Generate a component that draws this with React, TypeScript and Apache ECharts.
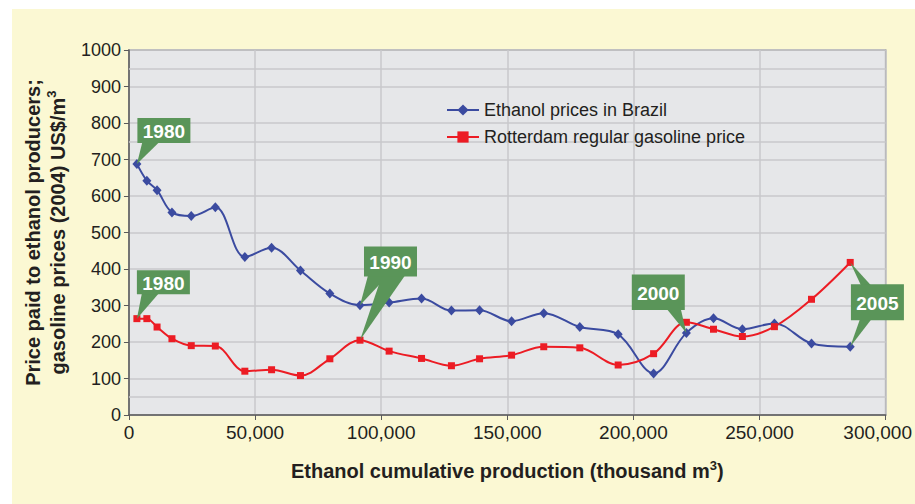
import React, { useEffect, useRef } from "react";
import * as echarts from "echarts";

// Cumulative ethanol production (thousand m3), one point per year 1980..2005
const xProduction = [
  3150, 7100, 11150, 17050, 24700, 34250, 45950, 56550, 68000, 79650, 91600, 103150, 116000,
  127850, 139000, 151700, 164450, 178750, 193950, 208000, 221000, 231750, 243200, 255900,
  270600, 285950,
];
const ethanolBrazil = [
  688, 642, 616, 555, 545, 569, 433, 458, 396, 333, 301, 308, 319, 286, 287, 257, 279, 241, 221,
  114, 225, 265, 235, 251, 196, 187,
];
const rotterdamGasoline = [
  264, 264, 241, 209, 190, 189, 120, 124, 108, 154, 205, 175, 155, 135, 154, 164, 187, 184, 137,
  168, 254, 235, 215, 242, 317, 418,
];
const seriesNames = ["Ethanol prices in Brazil", "Rotterdam regular gasoline price"];
const xTitle = "Ethanol cumulative production (thousand m{sup|3})";
const yTitle = "Price paid to ethanol producers;\ngasoline prices (2004) US$/m{sup|3}";
const extraGridValues = [950, 750, 50];

// callouts: label, anchor [series, index], box offset/size, pointers
const callouts = [
  { label: "1980", anchor: [0, 0], box: [0.5, -46, 53, 25], pointers: [{ edge: "bottom", base: [5, 22], tip: [0, 0] }] },
  { label: "1980", anchor: [1, 0], box: [0, -48.4, 53, 24], pointers: [{ edge: "bottom", base: [5, 22], tip: [1, 0] }] },
  {
    label: "1990", anchor: [0, 10], box: [4, -58.6, 53, 30],
    pointers: [
      { edge: "bottom", base: [4, 24], tip: [0, 10] },
      { edge: "bottom", base: [18, 41], tip: [1, 10] },
    ],
  },
  {
    label: "2000", anchor: [0, 20], box: [-54.6, -58.5, 53, 35.5],
    pointers: [{ edge: "bottom", base: [35, 49], tip: [0, 20] }],
  },
  {
    label: "2005", anchor: [1, 25], box: [0.7, 21.7, 53, 36],
    pointers: [
      { edge: "top", base: [10, 20], tip: [1, 25] },
      { edge: "bottom", base: [9, 20.5], tip: [0, 25] },
    ],
  },
];

const FONT = "'Liberation Sans', Arial, Helvetica, sans-serif";
const TXT = "#231F20";
const GRIDC = "#C8C9CB";
const GREEN = "#5A9559";

export default function App() {
  const ref = useRef<HTMLDivElement>(null);
  useEffect(() => {
    const chart = echarts.init(ref.current!, null, { renderer: "svg" });
    const ethData = xProduction.map((x, i) => [x, ethanolBrazil[i]]);
    const gasData = xProduction.map((x, i) => [x, rotterdamGasoline[i]]);
    const allData = [ethData, gasData];
    const supStyle = { fontSize: 13, fontWeight: "bold", color: TXT, verticalAlign: "top", lineHeight: 14, fontFamily: FONT };

    chart.setOption({
      animation: false,
      backgroundColor: "#FBF8D3",
      textStyle: { fontFamily: FONT },
      grid: {
        left: 114, right: 27, top: 41, bottom: 89, show: true,
        backgroundColor: "#E6E7E9", borderColor: "#8F8F8F", borderWidth: 1.5,
      },
      legend: {
        orient: "vertical", left: 429, top: 87, itemWidth: 32, itemHeight: 14, itemGap: 9,
        textStyle: { fontSize: 18, color: TXT, lineHeight: 18, fontFamily: FONT },
        data: seriesNames,
      },
      xAxis: {
        type: "value", min: 0, max: 300000, interval: 50000,
        axisLine: { show: true, onZero: false, lineStyle: { color: "#5A5A5A", width: 1.5 } },
        axisTick: { show: true, length: 5, lineStyle: { color: "#5A5A5A" } },
        axisLabel: {
          fontSize: 19, color: TXT, margin: 8, fontFamily: FONT,
          formatter: (v: number) => {
            const s = v.toLocaleString("en-US");
            return v === 300000 ? "{last|" + s + "}" : s;
          },
          rich: { last: { fontSize: 19, color: TXT, fontFamily: FONT, padding: [0, 16, 0, 0] } },
        },
        splitLine: { show: true, lineStyle: { color: GRIDC, width: 1.5 } },
        name: xTitle, nameLocation: "middle", nameGap: 44,
        nameTextStyle: { fontSize: 20, fontWeight: "bold", color: TXT, lineHeight: 24, fontFamily: FONT, rich: { sup: supStyle } },
      },
      yAxis: {
        type: "value", min: 0, max: 1000, interval: 100,
        axisLine: { show: true, lineStyle: { color: "#5A5A5A", width: 1.5 } },
        axisTick: { show: true, length: 5, lineStyle: { color: "#5A5A5A" } },
        axisLabel: { fontSize: 18, color: TXT, margin: 8, fontFamily: FONT, formatter: (v: number) => String(v) },
        splitLine: { show: true, lineStyle: { color: GRIDC, width: 1.5 } },
        name: yTitle, nameLocation: "middle", nameGap: 44, nameRotate: 90,
        nameTextStyle: { fontSize: 20, fontWeight: "bold", color: TXT, lineHeight: 25, fontFamily: FONT, rich: { sup: supStyle } },
      },
      series: [
        {
          name: seriesNames[0], type: "line", data: ethData, smooth: 0.35,
          symbol: "diamond", symbolSize: [9, 10],
          itemStyle: { color: "#3B4BA0" }, lineStyle: { width: 2, color: "#3B4BA0" },
          markLine: {
            silent: true, symbol: "none", label: { show: false },
            lineStyle: { color: GRIDC, width: 1.5, type: "solid" },
            data: extraGridValues.map((v) => ({ yAxis: v })),
            z: 1,
          },
        },
        {
          name: seriesNames[1], type: "line", data: gasData, smooth: 0.35,
          symbol: "rect", symbolSize: 7,
          itemStyle: { color: "#EC1C24" }, lineStyle: { width: 2, color: "#EC1C24" },
        },
      ],
    });

    const px = (s: number, i: number) => chart.convertToPixel({ gridIndex: 0 }, allData[s][i]) as number[];
    const elements: any[] = [];
    callouts.forEach((c) => {
      const a = px(c.anchor[0], c.anchor[1]);
      const bx = a[0] + c.box[0];
      const by = a[1] + c.box[1];
      const bw = c.box[2];
      const bh = c.box[3];
      c.pointers.forEach((p) => {
        const t = px(p.tip[0], p.tip[1]);
        const ey = p.edge === "top" ? by + 1 : by + bh - 1;
        elements.push({
          type: "polygon", z: 100,
          shape: { points: [[bx + p.base[0], ey], [bx + p.base[1], ey], [t[0], t[1]]] },
          style: { fill: GREEN },
        });
      });
      elements.push({
        type: "rect", z: 100,
        shape: { x: bx, y: by, width: bw, height: bh },
        style: { fill: GREEN },
      });
      elements.push({
        type: "text", z: 101, x: bx + bw / 2, y: by + bh / 2 + 1,
        style: {
          text: c.label, fill: "#FFFFFF", font: `bold 19px ${FONT}`,
          align: "center", verticalAlign: "middle", textAlign: "center", textVerticalAlign: "middle",
        },
      });
    });
    chart.setOption({ graphic: { elements } });

    return () => chart.dispose();
  }, []);
  return <div ref={ref} style={{ position: "absolute", left: 12, top: 9, width: 903, height: 495 }} />;
}
